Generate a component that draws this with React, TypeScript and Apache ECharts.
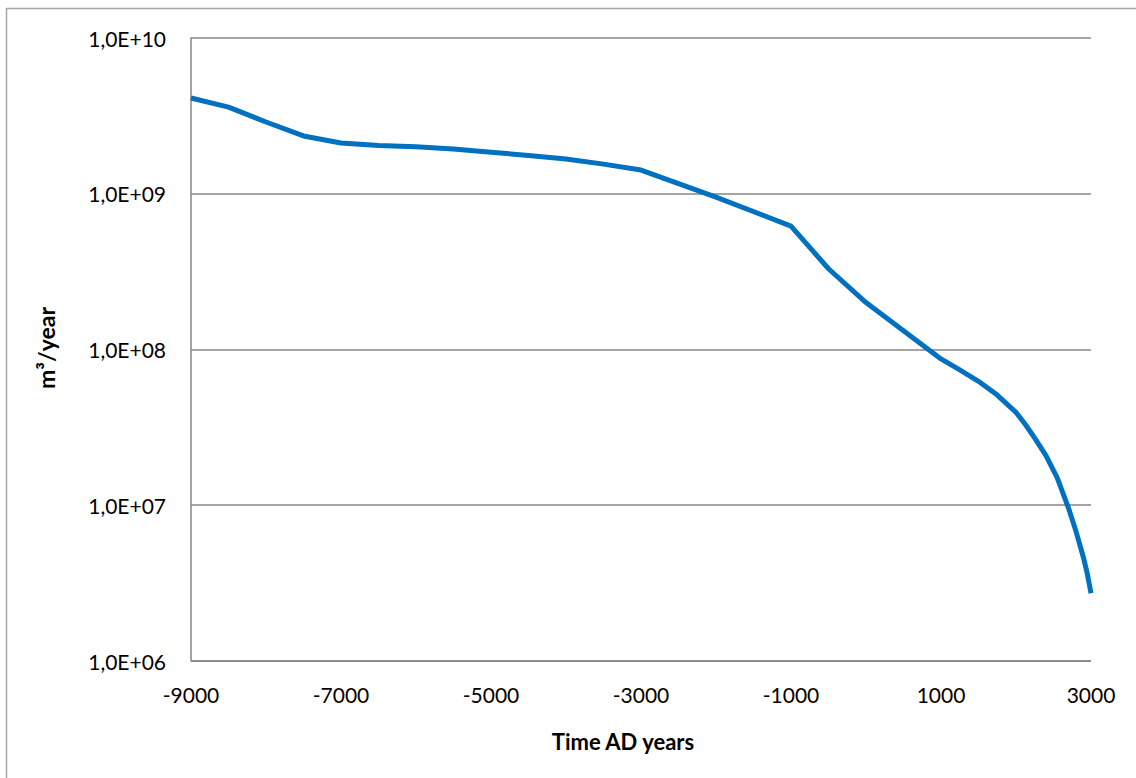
import React, { useEffect, useRef } from "react";
import * as echarts from "echarts";

const years = [-9000, -8500, -8000, -7500, -7000, -6500, -6000, -5500, -5000, -4500, -4000, -3500, -3000, -2000, -1000, -500, 0, 1000, 1250, 1500, 1750, 2000, 2125, 2250, 2400, 2550, 2700, 2800, 2900, 2950, 3000];
const volumes = [4.12e9, 3.6e9, 2.89e9, 2.35e9, 2.12e9, 2.04e9, 2.0e9, 1.94e9, 1.85e9, 1.76e9, 1.67e9, 1.55e9, 1.42e9, 9.5e8, 6.2e8, 3.3e8, 2.0e8, 8.7e7, 7.4e7, 6.25e7, 5.1e7, 3.95e7, 3.3e7, 2.7e7, 2.08e7, 1.5e7, 9.6e6, 6.8e6, 4.6e6, 3.65e6, 2.72e6];
const xTitle = "Time AD years";
const yTitle = "m³/year";

const FONT = "Lato, 'Open Sans', sans-serif";

export default function App() {
  const ref = useRef<HTMLDivElement>(null);
  useEffect(() => {
    if (!ref.current) return;
    const chart = echarts.init(ref.current, null, { renderer: "svg" });
    chart.setOption({
      animation: false,
      backgroundColor: "#ffffff",
      grid: { left: 191, top: 38, right: 45, bottom: 117, containLabel: false },
      graphic: [
        {
          type: "rect",
          shape: { x: 6.5, y: 8.5, width: 1200, height: 900 },
          style: { fill: "none", stroke: "#a6a6a6", lineWidth: 1.5 },
          silent: true,
        },
        {
          type: "text",
          x: 623,
          y: 741,
          style: { text: xTitle, fontFamily: FONT, fontSize: 22, fontWeight: "bold", fill: "#000", align: "center", verticalAlign: "middle" },
        },
        {
          type: "text",
          x: 46,
          y: 348,
          rotation: Math.PI / 2,
          style: { text: yTitle, fontFamily: FONT, fontSize: 23, fontWeight: "bold", fill: "#000", align: "center", verticalAlign: "middle" },
        },
      ],
      xAxis: {
        type: "value",
        min: -9000,
        max: 3000,
        interval: 2000,
        axisLine: { show: false },
        axisTick: { show: false },
        splitLine: { show: false },
        axisLabel: { color: "#000", fontFamily: FONT, fontSize: 21, margin: 23, formatter: (v: number) => String(v) },
      },
      yAxis: {
        type: "log",
        logBase: 10,
        min: 1e6,
        max: 1e10,
        axisLine: { show: true, onZero: false, lineStyle: { color: "#868686", width: 1.5 } },
        axisTick: { show: false },
        splitLine: { show: true, lineStyle: { color: "#868686", width: 1.5 } },
        axisLabel: {
          color: "#000",
          fontFamily: FONT,
          fontSize: 21,
          margin: 25,
          formatter: (v: number) => {
            const e = Math.round(Math.log10(v));
            return "1,0E+" + String(e).padStart(2, "0");
          },
        },
      },
      series: [
        {
          type: "line",
          data: years.map((y, i) => [y, volumes[i]]),
          showSymbol: false,
          smooth: false,
          lineStyle: { color: "#0070C0", width: 5, join: "round" },
          itemStyle: { color: "#0070C0" },
          clip: true,
        },
      ],
    });
    return () => chart.dispose();
  }, []);
  return <div ref={ref} style={{ position: "fixed", left: 0, top: 0, width: 1136, height: 778 }} />;
}
